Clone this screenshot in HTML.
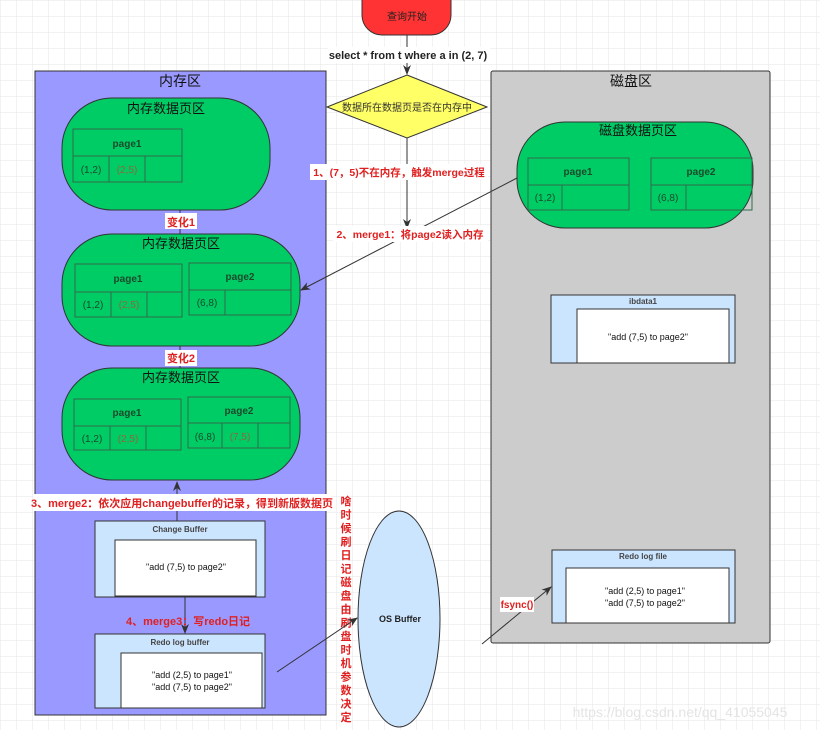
<!DOCTYPE html>
<html><head><meta charset="utf-8"><style>
html,body{margin:0;padding:0;background:#fff}
svg{display:block}
text{font-family:"Liberation Sans","Noto Sans CJK SC",sans-serif}
</style></head><body>
<svg width="820" height="730" viewBox="0 0 820 730" xmlns="http://www.w3.org/2000/svg">
<defs>
<pattern id="g" width="16" height="16" patternUnits="userSpaceOnUse"><path d="M16 0H0V16" fill="none" stroke="#e6e6e6" stroke-width="1"/></pattern>
<marker id="a" markerWidth="10" markerHeight="8" refX="9" refY="4" orient="auto" markerUnits="userSpaceOnUse"><path d="M0 0L10 4L0 8L3 4Z" fill="#333"/></marker>
</defs>
<rect width="820" height="730" fill="url(#g)"/>

<rect x="35" y="71" width="291" height="644" fill="#9999ff" stroke="#333" stroke-width="1"/>
<text x="180" y="86" font-size="14" text-anchor="middle" fill="#111">内存区</text>

<rect x="491" y="71" width="279" height="572" rx="2" fill="#cccccc" stroke="#333" stroke-width="1"/>
<text x="631" y="86" font-size="14" text-anchor="middle" fill="#111">磁盘区</text>

<g font-size="10" fill="#1a4a2a" stroke-width="1">
<rect x="62" y="98" width="208" height="112" rx="50" fill="#00cc66" stroke="#333"/>
<text x="166" y="113" font-size="13" text-anchor="middle" fill="#111">内存数据页区</text>
<g stroke="#2f6b4a" fill="none"><rect x="73" y="129" width="109" height="27"/><rect x="73" y="156" width="109" height="26"/><path d="M109 156V182M145 156V182"/></g>
<text x="127" y="147" text-anchor="middle" font-weight="bold">page1</text>
<text x="91" y="173" text-anchor="middle">(1,2)</text><text x="127" y="173" text-anchor="middle" fill="#8a6a3a">(2,5)</text>

<rect x="62" y="234" width="238" height="112" rx="50" fill="#00cc66" stroke="#333"/>
<text x="181" y="248" font-size="13" text-anchor="middle" fill="#111">内存数据页区</text>
<g stroke="#2f6b4a" fill="none"><rect x="75" y="264" width="107" height="28"/><rect x="75" y="292" width="107" height="25"/><path d="M111 292V317M147 292V317"/>
<rect x="189" y="263" width="102" height="27"/><rect x="189" y="290" width="102" height="25"/><path d="M225 290V315"/></g>
<text x="128" y="282" text-anchor="middle" font-weight="bold">page1</text>
<text x="93" y="308" text-anchor="middle">(1,2)</text><text x="129" y="308" text-anchor="middle" fill="#8a6a3a">(2,5)</text>
<text x="240" y="280" text-anchor="middle" font-weight="bold">page2</text>
<text x="207" y="306" text-anchor="middle">(6,8)</text>

<rect x="62" y="368" width="238" height="112" rx="50" fill="#00cc66" stroke="#333"/>
<text x="181" y="382" font-size="13" text-anchor="middle" fill="#111">内存数据页区</text>
<g stroke="#2f6b4a" fill="none"><rect x="74" y="399" width="107" height="27"/><rect x="74" y="426" width="107" height="24"/><path d="M110 426V450M146 426V450"/>
<rect x="188" y="397" width="102" height="26"/><rect x="188" y="423" width="102" height="25"/><path d="M222 423V448M258 423V448"/></g>
<text x="127" y="416" text-anchor="middle" font-weight="bold">page1</text>
<text x="92" y="442" text-anchor="middle">(1,2)</text><text x="128" y="442" text-anchor="middle" fill="#8a6a3a">(2,5)</text>
<text x="239" y="414" text-anchor="middle" font-weight="bold">page2</text>
<text x="205" y="440" text-anchor="middle">(6,8)</text><text x="240" y="440" text-anchor="middle" fill="#8a6a3a">(7,5)</text>

<rect x="517" y="122" width="236" height="106" rx="48" fill="#00cc66" stroke="#333"/>
<text x="638" y="135" font-size="13" text-anchor="middle" fill="#111">磁盘数据页区</text>
<g stroke="#2f6b4a" fill="none"><rect x="528" y="158" width="101" height="27"/><rect x="528" y="185" width="101" height="25"/><path d="M562 185V210"/>
<rect x="651" y="158" width="101" height="27"/><rect x="651" y="185" width="101" height="25"/><path d="M686 185V210"/></g>
<text x="578" y="175" text-anchor="middle" font-weight="bold">page1</text>
<text x="545" y="201" text-anchor="middle">(1,2)</text>
<text x="701" y="175" text-anchor="middle" font-weight="bold">page2</text>
<text x="668" y="201" text-anchor="middle">(6,8)</text>
</g>

<path d="M180 210V234M180 346V368" stroke="#333"/>
<rect x="165" y="213" width="32" height="16" fill="#fff"/><text x="181" y="226" font-size="11" font-weight="bold" text-anchor="middle" fill="#e02020">变化1</text>
<rect x="165" y="350" width="32" height="16" fill="#fff"/><text x="181" y="362" font-size="11" font-weight="bold" text-anchor="middle" fill="#e02020">变化2</text>

<path d="M177 521V482" stroke="#333" marker-end="url(#a)"/>
<rect x="33" y="494" width="298" height="17" fill="#fff"/>
<text x="182" y="507" font-size="11" font-weight="bold" text-anchor="middle" fill="#e02020">3、merge2：依次应用changebuffer的记录，得到新版数据页</text>
<rect x="95" y="521" width="170" height="76" fill="#cce5ff" stroke="#333"/>
<text x="180" y="532" font-size="8" font-weight="bold" text-anchor="middle" fill="#444">Change Buffer</text>
<rect x="115" y="540" width="141" height="56" fill="#fff" stroke="#333"/>
<text x="186" y="570" font-size="9" text-anchor="middle" fill="#111">"add (7,5) to page2"</text>
<path d="M185 597V633" stroke="#333" marker-end="url(#a)"/>
<text x="188" y="625" font-size="11" font-weight="bold" text-anchor="middle" fill="#e02020">4、merge3：写redo日记</text>
<rect x="95" y="634" width="170" height="74" fill="#cce5ff" stroke="#333"/>
<text x="180" y="645" font-size="8" font-weight="bold" text-anchor="middle" fill="#444">Redo log buffer</text>
<rect x="121" y="653" width="141" height="55" fill="#fff" stroke="#333"/>
<text x="192" y="678" font-size="9" text-anchor="middle" fill="#111">"add (2,5) to page1"</text>
<text x="192" y="690" font-size="9" text-anchor="middle" fill="#111">"add (7,5) to page2"</text>

<g font-size="11" font-weight="bold" fill="#e02020" text-anchor="middle">
<text x="346" y="505">啥</text><text x="346" y="518.5">时</text><text x="346" y="532">候</text><text x="346" y="545.5">刷</text><text x="346" y="559">日</text><text x="346" y="572.5">记</text><text x="346" y="586">磁</text><text x="346" y="599.5">盘</text><text x="346" y="613">由</text><text x="346" y="626.5">刷</text><text x="346" y="640">盘</text><text x="346" y="653.5">时</text><text x="346" y="667">机</text><text x="346" y="680.5">参</text><text x="346" y="694">数</text><text x="346" y="707.5">决</text><text x="346" y="721">定</text>
</g>

<ellipse cx="399" cy="619" rx="41" ry="108" fill="#cce5ff" stroke="#333"/>
<text x="400" y="622" font-size="9" font-weight="bold" text-anchor="middle" fill="#222">OS Buffer</text>
<path d="M277 672L357 618" stroke="#333" marker-end="url(#a)"/>
<path d="M482 644L551 587" stroke="#333" marker-end="url(#a)"/>
<rect x="500" y="597" width="34" height="15" fill="#fff"/>
<text x="517" y="608" font-size="10" font-weight="bold" text-anchor="middle" fill="#e02020">fsync()</text>

<rect x="551" y="295" width="184" height="68" fill="#cce5ff" stroke="#333"/>
<text x="643" y="304" font-size="8" font-weight="bold" text-anchor="middle" fill="#444">ibdata1</text>
<rect x="577" y="309" width="152" height="54" fill="#fff" stroke="#333"/>
<text x="648" y="340" font-size="9" text-anchor="middle" fill="#111">"add (7,5) to page2"</text>

<rect x="552" y="550" width="183" height="73" fill="#cce5ff" stroke="#333"/>
<text x="643" y="559" font-size="8" font-weight="bold" text-anchor="middle" fill="#444">Redo log file</text>
<rect x="566" y="568" width="163" height="55" fill="#fff" stroke="#333"/>
<text x="645" y="594" font-size="9" text-anchor="middle" fill="#111">"add (2,5) to page1"</text>
<text x="645" y="606" font-size="9" text-anchor="middle" fill="#111">"add (7,5) to page2"</text>

<rect x="362" y="-20" width="89" height="55" rx="20" fill="#ff3333" stroke="#333"/>
<text x="407" y="20" font-size="10" text-anchor="middle" fill="#222">查询开始</text>
<path d="M407 35V74" stroke="#333" marker-end="url(#a)"/>
<rect x="328" y="47" width="162" height="16" fill="#fff"/>
<text x="408" y="59" font-size="11" font-weight="bold" text-anchor="middle" fill="#222">select * from t where a in (2, 7)</text>
<polygon points="407,75 487,107 407,138 327,107" fill="#ffff66" stroke="#333"/>
<text x="407" y="111" font-size="10" text-anchor="middle" fill="#333">数据所在数据页是否在内存中</text>
<path d="M407 138V228" stroke="#333" marker-end="url(#a)"/>
<rect x="310" y="164" width="178" height="16" fill="#fff"/>
<text x="399" y="176" font-size="10.5" font-weight="bold" text-anchor="middle" fill="#e02020">1、(7，5)不在内存，触发merge过程</text>
<path d="M517 178L301 290" stroke="#333" marker-end="url(#a)"/>
<rect x="333" y="226" width="155" height="16" fill="#fff"/>
<text x="410" y="238" font-size="10.5" font-weight="bold" text-anchor="middle" fill="#e02020">2、merge1：将page2读入内存</text>

<text x="680" y="717" font-size="14" text-anchor="middle" fill="#e4e4e4">https://blog.csdn.net/qq_41055045</text>
</svg>
</body></html>
